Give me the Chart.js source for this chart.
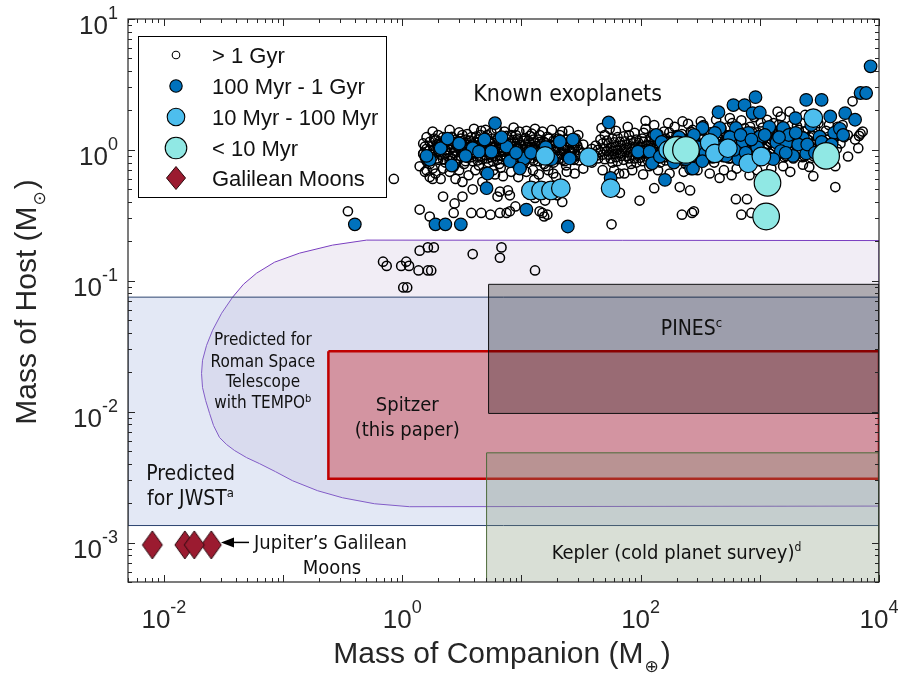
<!DOCTYPE html>
<html>
<head>
<meta charset="utf-8">
<script src="https://cdn.jsdelivr.net/npm/chart.js@4.4.1/dist/chart.umd.min.js"></script>
<style>
  body { margin: 0; background: #fff; }
</style>
</head>
<body>
<canvas id="massChart" width="901" height="676"></canvas>
<script>
// axis limits and tick exponents
var xLimits = [0.005, 1e4];
var yLimits = [5e-4, 10];
var xTickExp = [-2, 0, 2, 4];
var yTickExp = [-3, -2, -1, 0, 1];

// legend entries
var legendLabels = ['> 1 Gyr', '100 Myr - 1 Gyr', '10 Myr - 100 Myr', '< 10 Myr', 'Galilean Moons'];

// known exoplanets [companion mass (M_earth), host mass (M_sun)], by system age
var olderThan1Gyr = [
  [0.35,0.34],[0.85,0.60],[1.4,0.35],[1.7,0.31],[2.2,0.44],[2.7,0.33],[3.2,0.44],[2.75,0.39],[3.8,0.33],[4.6,0.33],
  [5.5,0.32],[6.6,0.33],[7.5,0.33],[8.0,0.45],[6.3,0.44],[1.4,0.75],[1.7,0.62],[2.1,0.60],[2.8,0.60],[1.5,0.94],
  [1.7,1.0],[5.0,1.42],[1.55,0.68],[1.8,0.60],[6.6,0.48],[7.7,0.49],[3.9,0.50],[3.2,0.57],[4.7,0.57],[6.0,0.65],
  [14.2,0.34],[15.5,0.31],[16.5,0.32],[13,0.43],[15.8,0.41],[12.8,0.59],[18.5,0.66],[8.9,0.37],[20,0.45],[22,0.40],[8,0.34],
  [0.69,0.14],[0.74,0.13],[0.98,0.13],[1.08,0.14],[1.14,0.13],[1.37,0.12],[1.64,0.12],[1.75,0.12],[1.4,0.17],[1.64,0.18],
  [1.84,0.18],[3.9,0.16],[6.8,0.18],[6.6,0.15],[1.02,0.089],[1.1,0.089],[13,0.12],
  [57,0.27],[98,0.41],[222,0.32],[270,0.33],[630,0.42],[780,0.42],[700,0.32],[850,0.33],[4300,0.52],[2810,0.63],
  [280,0.34],[460,0.61],[580,0.64],[820,0.64],[1570,0.75],[2300,0.77],[4300,0.75],[260,0.49],[213,0.52],[130,0.51],
  [67,0.47],[73,0.66],[60,0.70],[15,0.33],[110,1.67],[47,1.47],[9.6,1.38],[22,1.38],[225,1.65],[1780,1.96],
  [4950,1.55],[7300,1.38],[6000,2.35],[5500,0.89],[6700,1.03],[1410,1.96],
  [1.5,0.93],[1.5,1.12],[1.6,0.82],[1.6,1.02],[1.6,1.25],[1.8,0.88],[1.8,1.08],[1.8,0.72],[1.9,0.97],[1.9,1.18],
  [2.0,0.84],[2.0,1.05],[2.0,1.3],[2.1,0.92],[2.1,1.12],[2.3,0.8],[2.3,1.0],[2.3,1.2],[2.4,0.9],[2.4,1.1],
  [2.6,0.86],[2.6,1.03],[2.6,1.26],[2.7,0.95],[2.7,1.15],[2.7,0.74],[2.9,0.83],[2.9,1.07],[3.1,0.9],[3.1,1.0],
  [3.1,1.22],[3.3,0.97],[3.3,1.13],[3.3,0.78],[3.5,0.87],[3.5,1.05],[3.5,1.32],[3.7,0.92],[3.7,1.18],[3.9,0.82],
  [3.9,1.01],[3.9,1.1],[4.2,0.89],[4.2,1.07],[4.2,1.27],[4.4,0.95],[4.4,1.15],[4.4,0.76],[4.7,0.85],[4.7,1.02],
  [5.0,0.91],[5.0,1.1],[5.0,1.24],[5.3,0.8],[5.3,0.98],[5.3,1.17],[5.6,0.88],[5.6,1.06],[5.6,1.35],[5.9,0.94],
  [5.9,1.13],[6.3,0.84],[6.3,1.02],[6.3,1.22],[6.7,0.9],[6.7,1.09],[6.7,0.73],[7.1,0.97],[7.1,1.16],[7.5,0.86],
  [7.5,1.04],[7.5,1.28],[8.0,0.92],[8.0,1.11],[8.5,0.8],[8.5,1.0],[8.5,1.19],[9.0,0.88],[9.0,1.07],[9.0,1.3],
  [9.6,0.95],[9.6,1.14],[10.2,0.84],[10.2,1.02],[10.2,0.75],[10.8,0.9],[10.8,1.1],[10.8,1.23],[11.5,0.97],[11.5,1.17],
  [12.2,0.86],[12.2,1.05],[12.2,1.33],[13,0.92],[13,1.12],[13.8,0.82],[13.8,1.0],[13.8,1.2],[14.6,0.89],[14.6,1.08],
  [15.5,0.96],[15.5,1.15],[15.5,0.78],[16.5,0.85],[16.5,1.03],[16.5,1.26],[17.5,0.91],[17.5,1.1],[18.6,0.8],[18.6,0.99],
  [18.6,1.18],[19.8,0.88],[19.8,1.06],[21,0.94],[21,1.13],[21,1.3],[22.3,0.84],[22.3,1.02],[23.7,0.9],[23.7,1.09],
  [23.7,0.76],[25.2,0.97],[25.2,1.16],[26.8,0.86],[26.8,1.04],[28.5,0.92],[28.5,1.12],[28.5,1.22],[30.3,0.83],[30.3,1.0],
  [33,0.95],[33,1.1],[36,0.88],[39,1.02],[39,0.8],
  [1.55,0.87],[1.55,1.06],[1.7,0.93],[1.7,1.15],[1.7,0.78],[1.85,1.0],[1.85,1.22],[1.95,0.86],[1.95,1.1],[2.05,0.96],
  [2.05,1.16],[2.2,0.85],[2.2,1.06],[2.2,1.25],[2.35,0.95],[2.35,1.15],[2.5,0.82],[2.5,1.0],[2.5,1.2],[2.65,0.9],
  [2.65,1.1],[2.8,0.98],[2.8,1.2],[2.8,0.78],[3.0,0.86],[3.0,1.04],[3.2,0.93],[3.2,1.12],[3.2,1.3],[3.4,0.82],
  [3.4,1.0],[3.4,1.2],[3.6,0.97],[3.6,1.1],[3.8,0.88],[3.8,1.06],[3.8,1.25],[4.05,0.94],[4.05,1.14],[4.3,0.83],
  [4.3,1.02],[4.3,1.2],[4.55,0.9],[4.55,1.08],[4.55,1.3],[4.85,0.97],[4.85,1.16],[5.15,0.86],[5.15,1.04],[5.15,1.3],
  [5.45,0.92],[5.45,1.12],[5.75,0.82],[5.75,1.0],[5.75,1.22],[6.1,0.9],[6.1,1.08],[6.5,0.96],[6.5,1.16],[6.5,0.78],
  [6.9,0.85],[6.9,1.03],[6.9,1.24],[7.3,0.92],[7.3,1.1],[7.75,0.82],[7.75,0.99],[7.75,1.2],[8.25,0.88],[8.25,1.06],
  [8.25,1.3],[8.75,0.95],[8.75,1.14],[9.3,0.84],[9.3,1.02],[9.3,1.22],[9.9,0.91],[9.9,1.09],[10.5,0.97],[10.5,1.17],
  [10.5,0.8],[11.1,0.86],[11.1,1.04],[11.8,0.93],[11.8,1.12],[11.8,1.28],[12.6,0.83],[12.6,1.0],[12.6,1.2],[13.4,0.89],
  [13.4,1.07],[14.2,0.96],[14.2,1.15],[14.2,1.3],[15,0.86],[15,1.04],[16,0.92],[16,1.12],[16,0.75],[17,0.82],
  [17,1.0],[17,1.22],[18,0.89],[18,1.07],[19.2,0.96],[19.2,1.16],[20.4,0.85],[20.4,1.03],[20.4,1.22],[21.6,0.92],
  [21.6,1.1],[23,0.82],[23,1.0],[23,1.2],[24.4,0.88],[24.4,1.06],[26,0.94],[26,1.14],[27.6,0.84],[27.6,1.02],
  [29.4,0.9],[29.4,1.08],
  [1.6,0.7],[1.9,0.66],[2.2,0.72],[2.5,0.68],[3.0,0.7],[3.6,0.64],[4.1,0.7],[4.9,0.68],[5.8,0.7],[7.0,0.63],
  [8.2,0.68],[9.4,0.62],[11,0.68],[12.5,0.7],[14,0.65],[16.8,0.7],[19.5,0.62],[24,0.68],[28,0.66],[33,0.72],
  [1.8,1.38],[2.5,1.42],[3.0,1.36],[4.0,1.45],[4.6,1.4],[6.2,1.45],[7.2,1.38],[8.6,1.48],[11,1.4],[13,1.45],
  [15,1.38],[18,1.42],[25,1.4],[30,1.3],
  [42,0.9],[42,1.08],[46,0.96],[46,1.2],[50,0.85],[50,1.02],[50,1.3],[54,0.92],[54,1.12],[58,0.98],
  [58,0.8],[58,1.22],[62,0.88],[62,1.06],[62,1.4],[67,0.94],[67,1.15],[72,0.84],[72,1.02],[72,1.27],
  [77,0.9],[77,1.1],[83,0.97],[83,1.18],[83,0.78],[89,0.86],[89,1.05],[89,1.35],[96,0.92],[96,1.13],
  [103,0.82],[103,1.0],[103,1.22],[110,0.89],[110,1.08],[110,1.45],[118,0.95],[118,1.16],[118,0.75],[127,0.86],
  [127,1.04],[127,1.3],[136,0.92],[136,1.12],[146,0.98],[146,1.2],[146,0.8],[157,0.88],[157,1.07],[157,1.38],
  [168,0.94],[168,1.15],[180,0.84],[180,1.02],[180,1.26],[193,0.9],[193,1.1],[193,1.5],[207,0.97],[207,1.18],
  [222,0.86],[222,1.05],[222,1.32],[238,0.93],[238,1.13],[238,0.78],[255,1.0],[255,1.22],[273,0.88],[273,1.08],
  [273,1.42],[293,0.95],[293,1.16],[314,0.85],[314,1.04],[314,1.28],[336,0.92],[336,1.12],[336,1.55],[360,0.99],
  [360,1.2],[386,0.88],[386,1.08],[386,1.36],[414,0.95],[414,1.17],[414,0.8],[444,1.02],[444,1.26],[476,0.9],
  [476,1.1],[476,1.46],[510,0.97],[510,1.19],[547,0.86],[547,1.05],[547,1.3],[586,0.93],[586,1.14],[586,1.6],
  [628,1.0],[628,1.23],[673,0.89],[673,1.09],[673,1.4],[721,0.96],[721,1.18],[721,0.82],[773,1.03],[773,1.28],
  [829,0.92],[829,1.12],[829,1.5],[888,0.99],[888,1.21],[952,0.88],[952,1.08],[952,1.36],[1020,0.95],[1020,1.17],
  [1020,1.62],[1095,1.02],[1095,1.26],[1173,0.9],[1173,1.11],[1173,1.44],[1258,0.97],[1258,1.19],[1348,0.87],[1348,1.06],
  [1348,1.32],[1445,0.94],[1445,1.15],[1445,1.56],[1550,1.01],[1550,1.24],[1660,0.9],[1660,1.1],[1660,1.4],[1780,0.97],
  [1780,1.19],[1910,0.86],[1910,1.05],[1910,1.3],[2050,0.94],[2050,1.15],[2050,1.52],[2200,1.0],[2200,1.24],[2360,0.9],
  [2360,1.1],[2360,1.38],[2530,0.97],[2530,1.2],[2710,0.87],[2710,1.06],[2710,1.3],[2910,0.94],[2910,1.15],[2910,1.48],
  [3120,1.02],[3120,1.24],[3350,0.9],[3350,1.1],[3590,0.97],[3590,1.2],[3590,1.4],[3850,0.88],[3850,1.06],[4130,0.95],
  [4130,1.15],[4430,1.02],[4430,1.28],[4750,1.12],[5100,1.25],[5470,1.3],[6300,1.2],[6800,1.28],[7000,1.33],
  [44,0.86],[44,1.0],[48,0.92],[48,1.12],[52,0.98],[52,1.18],[56,0.86],[56,1.04],[60,0.93],[60,1.14],
  [64,0.82],[64,1.0],[64,1.25],[69,0.9],[69,1.08],[74,0.96],[74,1.16],[80,0.86],[80,1.04],[80,1.3],
  [86,0.92],[86,1.12],[92,0.99],[92,1.2],[92,0.8],[99,0.87],[99,1.06],[106,0.94],[106,1.15],[106,1.35],
  [114,0.84],[114,1.02],[122,0.9],[122,1.1],[122,1.25],[131,0.97],[131,1.18],[141,0.86],[141,1.05],[141,1.32],
  [151,0.93],[151,1.13],[162,0.83],[162,1.0],[162,1.22],[174,0.9],[174,1.09],[174,1.36],[186,0.97],[186,1.17],
  [200,0.86],[200,1.05],[200,1.3],[214,0.93],[214,1.14],[230,1.0],[230,1.22],[230,0.82],[246,0.88],[246,1.08],
  [264,0.95],[264,1.17],[264,1.38],[283,0.85],[283,1.03],[283,1.27],[303,0.92],[303,1.12],[325,0.99],[325,1.2],
  [325,1.42],[348,0.88],[348,1.07],[373,0.95],[373,1.16],[373,1.3],[400,0.86],[400,1.04],[400,1.25],[429,0.93],
  [429,1.13],[429,1.4],[460,1.0],[460,1.2],[493,0.88],[493,1.08],[493,1.33],[528,0.95],[528,1.16],[528,1.48],
  [566,0.86],[566,1.04],[566,1.25],[607,0.93],[607,1.13],[607,1.36],[650,1.0],[650,1.21],[697,0.88],[697,1.08],
  [697,1.3],[747,0.95],[747,1.16],[747,1.46],[800,0.87],[800,1.05],[800,1.25],[858,0.94],[858,1.14],[858,1.38],
  [920,1.01],[920,1.22],[985,0.9],[985,1.1],[985,1.3],[1056,0.97],[1056,1.18],[1056,1.48],[1133,0.87],[1133,1.06],
  [1133,1.28],[1215,0.94],[1215,1.15],[1215,1.38],[1303,1.01],[1303,1.23],[1303,1.6],[1397,0.9],[1397,1.1],[1397,1.3],
  [1498,0.97],[1498,1.18],[1498,1.45],[1606,0.88],[1606,1.07],[1606,1.28],[1720,0.95],[1720,1.16],[1720,1.38],[1845,1.02],
  [1845,1.24],[1845,1.55],[1980,0.9],[1980,1.1],[1980,1.32],[2125,0.97],[2125,1.18],[2125,1.42],[2280,0.88],[2280,1.07],
  [2280,1.28],[2445,0.95],[2445,1.16],[2445,1.4],[2620,1.02],[2620,1.25],[2810,0.9],[2810,1.1],[2810,1.35],[3010,0.97],
  [3010,1.18],[3230,0.88],[3230,1.07],[3230,1.3],[3470,0.95],[3470,1.15],[3720,1.02],[3720,1.25],[4000,0.92],[4000,1.12],
  [48,0.7],[66,0.66],[85,0.7],[105,0.65],[140,0.7],[175,0.66],[230,0.68],[300,0.7],[380,0.66],[500,0.7],
  [640,0.72],[950,0.7],[1250,0.72],[1800,0.68],[2600,0.74],[3500,0.78],
  [55,1.45],[78,1.5],[130,1.55],[170,1.6],[250,1.58],[320,1.65],[430,1.7],[560,1.75],[700,1.68],[900,1.78],
  [1150,1.7],[1500,1.8],[2000,1.7],[2400,1.85],[3100,1.6],[3800,1.55],[4500,1.5]
];
var age100MyrTo1Gyr = [
  [0.40,0.27],[1.7,0.84],[2.1,1.03],[2.6,0.76],[3.9,1.03],[4.4,0.97],[5.6,0.97],[7.5,1.06],[8.0,0.82],[6.0,1.6],
  [5.1,0.51],[5.2,0.66],[1.9,0.27],[2.3,0.27],[3.1,0.27],[11,0.35],[24.5,0.26],[10.5,0.86],[9.7,0.72],[21,1.16],
  [25.4,0.86],[54,1.62],[95,0.97],[119,0.97],[135,1.3],[125,0.79],[160,0.59],[265,0.72],[56,0.61],[920,2.53],
  [2450,2.41],[3300,2.41],[8500,4.35],[7000,2.72],[7800,2.72],[5200,1.91],[6300,1.7],[3900,1.8],[450,1.94],[600,2.2],
  [745,2.2],[870,1.91],[1990,1.75],[3170,1.26],[2300,1.23],[2450,0.94],[1900,0.9],[1380,1.14],[1000,1.26],[720,1.13],
  [630,1.47],[460,1.47],[330,1.47],[1000,1.93],[1570,1.47],[1670,1.13],[1130,0.89],[275,0.72],[145,0.89],[720,1.16],
  [180,1.1],[210,1.25],[240,0.85],[300,1.05],[350,0.95],[390,1.2],[520,0.9],[560,1.25],[660,0.85],[800,1.35],
  [950,1.05],[1200,1.5],[1500,0.98],[1750,1.3],[2100,1.1],[2700,1.55],[3600,1.0],[4200,1.35],
  [1.6,0.9],[3.0,1.12],[4.9,1.2],[12,0.95],[16,1.05],[27,1.2],
  [2.4,1.22],[3.4,0.9],[6.8,1.25],[9,0.95],[18,0.85],[150,1.15],[190,0.8],[280,1.3],[330,0.82],[420,1.35],
  [480,1.05],[610,1.0],[690,1.3],[760,0.95],[850,1.2],[1100,1.3],[1300,0.85],[1450,1.25],[1650,0.95],[2000,1.35],
  [2500,1.1],[2900,0.95],[3300,1.15],[4000,1.1],[4700,1.45],[5000,1.3]
];
var age10To100Myr = [
  [15.8,0.90],[36.7,0.88],[12,0.49],[14.6,0.49],[17.7,0.49],[21.4,0.51],[56,0.51],[170,1.0],[205,1.08],[380,1.13],
  [420,0.94],[540,1.03],[800,0.79],[1030,0.89],[2810,1.75]
];
var ageUnder10Myr = [[200,1.0],[240,1.0],[1160,0.56],[1130,0.31],[3600,0.9]];

// Galilean moons: Io, Europa, Ganymede, Callisto (M_earth) around Jupiter (M_sun)
var galileanMass = [0.015, 0.008, 0.025, 0.018];
var jupiterMass = 0.00096;

// detection regions as closed outlines [companion mass, host mass]
var romanRegion = [[1e4,0.203],[0.502,0.2046],[0.26,0.1873],[0.1375,0.1627],[0.0849,0.1388],[0.0599,0.1143],
  [0.0466,0.0942],[0.0377,0.0749],[0.0305,0.0565],[0.0256,0.0418],[0.0228,0.0321],[0.0211,0.0247],[0.0207,0.0196],
  [0.0211,0.0153],[0.0224,0.0122],[0.0242,0.00969],[0.0261,0.00784],[0.0293,0.00635],[0.0336,0.00561],[0.0392,0.00505],
  [0.0494,0.00446],[0.0635,0.00401],[0.0865,0.00348],[0.12,0.00297],[0.195,0.00249],[0.3155,0.0022],[0.585,0.00198],
  [1.151,0.00188],[1e4,0.0019],[1e4,0.203]];
var jwstRegion = [[0.005,0.075],[1e4,0.075],[1e4,0.00135],[0.005,0.00135],[0.005,0.075]];
var spitzerRegion = [[0.24,0.029],[1e4,0.029],[1e4,0.00307],[0.24,0.00307],[0.24,0.029]];
var pinesRegion = [[5.3,0.094],[1e4,0.094],[1e4,0.0097],[5.3,0.0097],[5.3,0.094]];
var keplerRegion = [[5.1,0.00485],[1e4,0.00485],[1e4,0.0003],[5.1,0.0003],[5.1,0.00485]];

function pts(list) {
  return list.map(function (p) { return { x: p[0], y: p[1] }; });
}

// diamond marker for the moons
var moonMark = document.createElement('canvas');
moonMark.width = 24; moonMark.height = 32;
var mc = moonMark.getContext('2d');
mc.beginPath(); mc.moveTo(12, 2); mc.lineTo(22, 16); mc.lineTo(12, 30); mc.lineTo(2, 16); mc.closePath();
mc.fillStyle = '#9b1b30'; mc.fill();
mc.strokeStyle = '#2a0a0f'; mc.lineWidth = 1; mc.stroke();

var AX = '#262626';
var LABEL_FONT = '"DejaVu Sans Condensed", "DejaVu Sans", sans-serif';

function region(data, fillCol, lineCol, lineW, order) {
  return {
    type: 'line', data: pts(data), backgroundColor: fillCol, borderColor: lineCol, borderWidth: lineW,
    fill: 'shape', pointRadius: 0, tension: 0, order: order
  };
}
function planets(data, r, col, order, bw) {
  return {
    data: pts(data), pointRadius: r, pointBackgroundColor: col, backgroundColor: col,
    pointBorderColor: '#000', pointBorderWidth: bw || 1.2, order: order
  };
}

function supText(ctx, base, sup, x, y, baseFont, supFont, supDy, align) {
  ctx.font = baseFont; var wb = ctx.measureText(base).width;
  ctx.font = supFont; var ws = ctx.measureText(sup).width;
  var x0 = align === 'center' ? x - (wb + ws) / 2 : (align === 'right' ? x - wb - ws : x);
  ctx.textAlign = 'left';
  ctx.font = baseFont; ctx.fillText(base, x0, y);
  ctx.font = supFont; ctx.fillText(sup, x0 + wb, y + supDy);
}

var decorPlugin = {
  id: 'decor',
  afterDraw: function (chart) {
    var ctx = chart.ctx, a = chart.chartArea, xs = chart.scales.x, ys = chart.scales.y;
    ctx.save();

    // in-plot labels
    ctx.fillStyle = '#111';
    ctx.textAlign = 'center';
    ctx.font = '23px ' + LABEL_FONT;
    ctx.fillText('Known exoplanets', xs.getPixelForValue(24.4), ys.getPixelForValue(2.35));
    supText(ctx, 'PINES', 'c', xs.getPixelForValue(267), ys.getPixelForValue(0.0383), '21px ' + LABEL_FONT, '13px ' + LABEL_FONT, -8, 'center');
    ctx.font = '20px ' + LABEL_FONT; ctx.textAlign = 'center';
    ctx.fillText('Spitzer', xs.getPixelForValue(1.1), ys.getPixelForValue(0.01005));
    ctx.fillText('(this paper)', xs.getPixelForValue(1.1), ys.getPixelForValue(0.00657));
    ctx.font = '17px ' + LABEL_FONT;
    ctx.fillText('Predicted for', xs.getPixelForValue(0.0677), ys.getPixelForValue(0.0321));
    ctx.fillText('Roman Space', xs.getPixelForValue(0.0677), ys.getPixelForValue(0.0219));
    ctx.fillText('Telescope', xs.getPixelForValue(0.0677), ys.getPixelForValue(0.0154));
    supText(ctx, 'with TEMPO', 'b', xs.getPixelForValue(0.0677), ys.getPixelForValue(0.0107), '17px ' + LABEL_FONT, '11px ' + LABEL_FONT, -6, 'center');
    ctx.font = '21px ' + LABEL_FONT; ctx.textAlign = 'center';
    ctx.fillText('Predicted', xs.getPixelForValue(0.01675), ys.getPixelForValue(0.00303));
    supText(ctx, 'for JWST', 'a', xs.getPixelForValue(0.01675), ys.getPixelForValue(0.00195), '21px ' + LABEL_FONT, '13px ' + LABEL_FONT, -8, 'center');
    supText(ctx, 'Kepler (cold planet survey)', 'd', xs.getPixelForValue(200), ys.getPixelForValue(0.000755), '20px ' + LABEL_FONT, '12px ' + LABEL_FONT, -8, 'center');
    ctx.font = '20px ' + LABEL_FONT; ctx.textAlign = 'left';
    ctx.fillText('Jupiter\u2019s Galilean', 254, ys.getPixelForValue(jupiterMass) + 4);
    ctx.textAlign = 'center';
    ctx.fillText('Moons', 332, ys.getPixelForValue(jupiterMass) + 29);

    // arrow to the moons
    var ay = ys.getPixelForValue(jupiterMass) - 2.5;
    ctx.strokeStyle = '#000'; ctx.lineWidth = 1.5;
    ctx.beginPath(); ctx.moveTo(249, ay); ctx.lineTo(230, ay); ctx.stroke();
    ctx.fillStyle = '#000';
    ctx.beginPath(); ctx.moveTo(221, ay); ctx.lineTo(234, ay - 5); ctx.lineTo(234, ay + 5); ctx.closePath(); ctx.fill();

    // frame
    ctx.strokeStyle = AX; ctx.lineWidth = 1.2;
    ctx.strokeRect(a.left, a.top, a.right - a.left, a.bottom - a.top);

    // ticks (inward, all four sides)
    ctx.lineWidth = 1;
    ctx.beginPath();
    var d, m, v, p;
    for (d = -3; d <= 4; d++) {
      for (m = 1; m <= 9; m++) {
        v = m * Math.pow(10, d);
        if (v < xLimits[0] * 0.999 || v > xLimits[1] * 1.001) continue;
        p = Math.round(xs.getPixelForValue(v)) + 0.5;
        var lx = m === 1 ? 7 : 4;
        ctx.moveTo(p, a.bottom); ctx.lineTo(p, a.bottom - lx);
        ctx.moveTo(p, a.top); ctx.lineTo(p, a.top + lx);
      }
    }
    for (d = -4; d <= 1; d++) {
      for (m = 1; m <= 9; m++) {
        v = m * Math.pow(10, d);
        if (v < yLimits[0] * 0.999 || v > yLimits[1] * 1.001) continue;
        p = Math.round(ys.getPixelForValue(v)) + 0.5;
        var ly = m === 1 ? 7 : 4;
        ctx.moveTo(a.left, p); ctx.lineTo(a.left + ly, p);
        ctx.moveTo(a.right, p); ctx.lineTo(a.right - ly, p);
      }
    }
    ctx.stroke();

    // tick labels
    ctx.fillStyle = AX;
    var TF = '26px "Liberation Sans", Arial, sans-serif', SF = '18px "Liberation Sans", Arial, sans-serif';
    xTickExp.forEach(function (e) {
      supText(ctx, '10', String(e), xs.getPixelForValue(Math.pow(10, e)), a.bottom + 46, TF, SF, -15, 'center');
    });
    yTickExp.forEach(function (e) {
      var py = ys.getPixelForValue(Math.pow(10, e));
      supText(ctx, '10', String(e), 118, py + 15, TF, SF, -15, 'right');
    });

    // axis titles with subscripts
    var BF = '30px "Liberation Sans", Arial, sans-serif', SUBF = '17px "DejaVu Sans", sans-serif';
    function subTitle(main, sub, cx, cy) {
      ctx.font = BF; var w1 = ctx.measureText(main).width, w3 = ctx.measureText(')').width;
      ctx.font = SUBF; var w2 = ctx.measureText(sub).width;
      var x0 = cx - (w1 + w2 + w3 + 3) / 2;
      ctx.textAlign = 'left';
      ctx.font = BF; ctx.fillText(main, x0, cy);
      ctx.font = SUBF; ctx.fillText(sub, x0 + w1 + 1, cy + 9);
      ctx.font = BF; ctx.fillText(')', x0 + w1 + w2 + 3, cy);
    }
    subTitle('Mass of Companion (M', '\u2295', 502, 663);
    ctx.save();
    ctx.translate(36, 302); ctx.rotate(-Math.PI / 2);
    subTitle('Mass of Host (M', '\u2299', 0, 0);
    ctx.restore();

    // legend
    ctx.fillStyle = '#fff'; ctx.fillRect(138.5, 36.5, 248, 161);
    ctx.strokeStyle = '#000'; ctx.lineWidth = 1; ctx.strokeRect(138.5, 36.5, 248, 161);
    var rowY = [55, 86, 117, 148, 178];
    var cols = ['#ffffff', '#0072bd', '#4dbeee', '#90e8e4'];
    var radii = [3.8, 6.2, 8.8, 10.8];
    for (var i = 0; i < 4; i++) {
      ctx.beginPath(); ctx.arc(176, rowY[i], radii[i], 0, Math.PI * 2);
      ctx.fillStyle = cols[i]; ctx.fill(); ctx.strokeStyle = '#000'; ctx.lineWidth = 1.1; ctx.stroke();
    }
    ctx.beginPath(); ctx.moveTo(176, rowY[4] - 11.5); ctx.lineTo(185.5, rowY[4]); ctx.lineTo(176, rowY[4] + 11.5); ctx.lineTo(166.5, rowY[4]); ctx.closePath();
    ctx.fillStyle = '#9b1b30'; ctx.fill(); ctx.strokeStyle = '#2a0a0f'; ctx.lineWidth = 1; ctx.stroke();
    ctx.fillStyle = '#111'; ctx.textAlign = 'left';
    ctx.font = '22px "Liberation Sans", Arial, sans-serif';
    legendLabels.forEach(function (t, k) { ctx.fillText(t, 212, rowY[k] + 8); });

    ctx.restore();
  }
};

new Chart(document.getElementById('massChart'), {
  type: 'scatter',
  data: {
    datasets: [
      region(romanRegion, 'rgba(115,75,155,0.10)', '#7a3fc0', 1, 9),
      region(jwstRegion, 'rgba(152,170,218,0.27)', '#2c4470', 1, 8),
      region(spitzerRegion, 'rgba(200,0,0,0.32)', '#c00000', 2.5, 7),
      region(keplerRegion, 'rgba(124,145,114,0.29)', '#4d6b3a', 1, 6),
      region(pinesRegion, 'rgba(0,0,0,0.28)', '#111111', 1, 5),
      { data: galileanMass.map(function (m) { return { x: m, y: jupiterMass }; }), pointStyle: moonMark, pointRadius: 12, order: 4 },
      planets(olderThan1Gyr, 4.6, 'rgba(255,255,255,0)', 3, 1.5),
      planets(age100MyrTo1Gyr, 6.3, '#0072bd', 2),
      planets(age10To100Myr, 9.3, '#4dbeee', 1),
      planets(ageUnder10Myr, 13.3, '#90e8e4', 0)
    ]
  },
  options: {
    responsive: false,
    animation: false,
    events: [],
    layout: { padding: { left: 128, right: 22, top: 19, bottom: 94 } },
    plugins: { legend: { display: false }, tooltip: { enabled: false } },
    scales: {
      x: { type: 'logarithmic', min: xLimits[0], max: xLimits[1], display: false },
      y: { type: 'logarithmic', min: yLimits[0], max: yLimits[1], display: false }
    }
  },
  plugins: [decorPlugin]
});
</script>
</body>
</html>
